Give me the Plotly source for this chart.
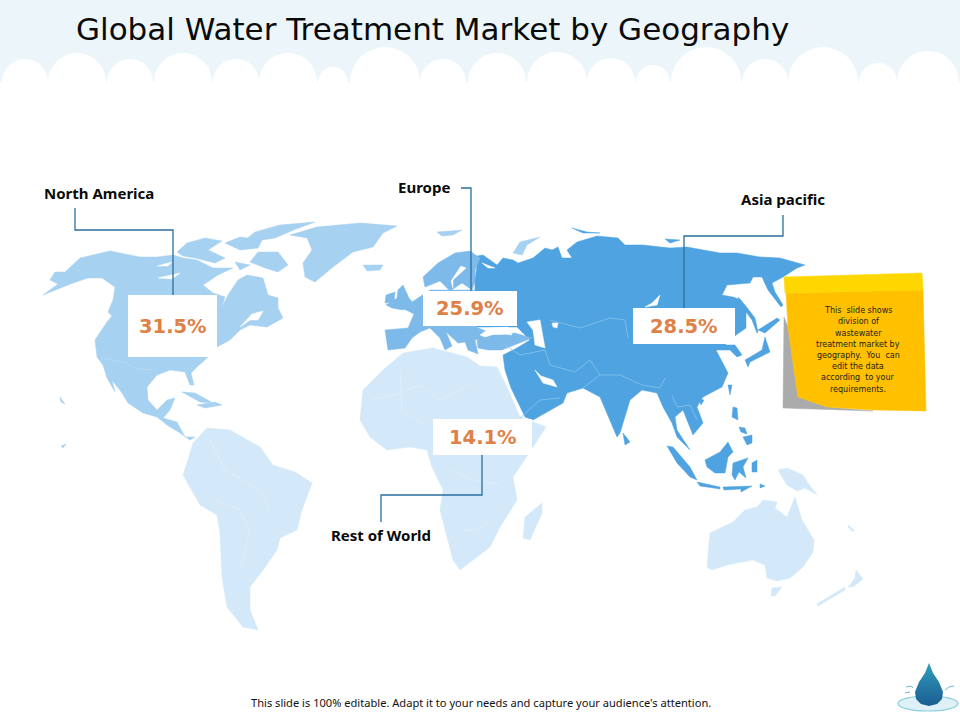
import plotly.graph_objects as go

# values shown on the slide
regions = ["North America", "Europe", "Asia pacific", "Rest of World"]
shares = [31.5, 25.9, 28.5, 14.1]

NA_COLOR = "#A6D1F1"
EU_COLOR = "#7DBAE9"
ASIA_COLOR = "#4FA3E1"
ROW_COLOR = "#D3E8F8"
LEADER = "#2B6E9E"
ORANGE = "#DE8146"

# map outlines, no topojson available offline so these are traced off the picture
north_america = [(43,295),(58,289),(73,283),(88,278),(102,278),(115,287),(113,300),(108,312),(112,316),(107,322),(95,340),(97,357),(103,365),
    (107,378),(115,392),(112,380),(122,393),(128,403),(143,413),(157,417),(167,425),(180,433),(190,440),(195,437),(185,437),(177,422),
    (163,418),(170,410),(175,398),(167,400),(157,410),(148,400),(147,387),(157,375),(170,370),(185,372),(190,385),(194,385),(191,373),
    (197,367),(207,358),(217,347),(230,340),(240,330),(250,325),(267,327),(283,318),(278,308),(278,298),(268,295),(263,278),(247,275),
    (238,280),(228,295),(222,307),(225,297),(213,293),(203,285),(218,275),(233,268),(213,268),(197,260),(183,258),(173,255),(157,257),
    (140,257),(110,251),(80,258),(65,272),(55,272),(50,280),(58,284)]
na_islands = [
    [(177,252),(187,243),(205,238),(222,241),(208,250),(225,258),(215,263),(195,258),(183,256)],
    [(225,243),(240,237),(262,240),(258,248),(240,250)],
    [(258,252),(278,252),(288,265),(278,272),(265,268),(250,262)],
    [(255,232),(280,225),(315,222),(296,229),(275,238),(262,240),(245,240)],
    [(235,262),(250,265),(240,270)],
    [(182,392),(195,393),(213,403),(200,402)],
    [(197,405),(215,402),(222,405),(205,408)],
    [(60,397),(64,402),(65,404),(61,402)],
    [(66,444),(63,448),(61,446)],
]
greenland = [(290,235),(317,227),(360,223),(397,226),(383,233),(373,247),(353,252),(333,267),(315,282),(305,277),(303,263),(312,250),(307,238)]
iceland = [(363,265),(383,265),(380,270),(367,271)]
svalbard = [(437,232),(462,230),(453,235),(442,236)]
novaya_zemlya = [(513,253),(520,242),(540,237),(527,245),(522,255)]

asia = [(475,290),(475,280),(477,265),(472,257),(483,255),(497,265),(503,258),(513,260),(518,263),(533,258),(545,248),(552,250),(558,247),(562,258),
    (572,258),(567,250),(577,242),(597,236),(618,238),(625,245),(643,245),(670,248),(687,247),(720,253),(737,253),(760,257),(780,258),
    (805,265),(797,268),(783,277),(772,283),(775,292),(783,305),(781,307),(768,290),(762,277),(753,277),(750,283),(727,285),(722,295),
    (733,297),(741,300),(746,312),(746,328),(736,335),(725,345),(735,345),(742,355),(737,357),(730,350),(716,350),
    (720,358),(728,373),(722,387),(703,397),(697,407),(703,423),(693,435),(683,410),(675,417),(677,430),
    (690,450),(677,437),(672,423),(663,407),(657,393),(642,390),(630,400),(620,433),(617,437),(603,403),(600,397),(583,388),
    (567,393),(563,403),(533,420),(525,417),(511,388),(505,370),(503,355),(517,348),(530,340),(517,327),(476,327)]
asia_islands = [
    [(667,446),(673,447),(690,467),(697,480),(690,477),(677,463)],
    [(697,482),(720,487),(720,489),(700,486)],
    [(723,487),(752,486),(741,492),(741,489),(724,490)],
    [(705,460),(720,452),(728,442),(733,452),(728,457),(725,473),(715,473),(707,467)],
    [(733,463),(748,458),(743,467),(746,478),(739,472),(735,480),(732,475)],
    [(733,407),(737,408),(738,420),(732,417)],
    [(743,437),(752,435),(752,443),(747,445)],
    [(739,427),(745,428),(747,434),(741,432)],
    [(752,463),(757,460),(757,472),(752,472)],
    [(765,337),(770,352),(750,362),(748,367),(745,360),(762,350)],
    [(758,330),(777,318),(780,320),(765,333)],
    [(738,297),(745,305),(755,318),(758,332),(757,333),(752,320),(743,308)],
    [(623,433),(630,442),(625,445)],
    [(728,385),(732,385),(730,395)],
    [(699,399),(704,400),(701,405)],
    [(760,484),(765,486),(760,488)],
    [(572,228),(587,232),(600,233),(583,233)],
    [(665,239),(680,240),(670,243)],
]
europe = [(385,330),(408,328),(414,314),(402,308),(412,302),(425,293),(430,290),(475,290),(476,327),(488,332),(485,337),(475,340),
    (478,354),(468,350),(465,342),(458,343),(446,332),(452,346),(445,350),(440,338),(430,328),(420,332),(412,338),(405,348),(388,350)]
scandinavia = [(423,277),(438,263),(455,253),(470,251),(480,258),(475,270),(475,282),(472,290),(462,283),(450,291),(440,281),(425,287)]
uk = [(386,305),(397,298),(398,290),(403,285),(409,298),(413,303),(403,310),(392,308)]
ireland = [(386,295),(395,292),(394,302),(385,303)]
turkey = [(477,340),(485,335),(502,335),(515,333),(532,338),(522,342),(502,350),(488,350),(478,348)]

africa = [(363,390),(383,370),(403,353),(433,348),(467,357),(480,366),(497,367),(507,387),(520,417),(546,427),(533,447),
    (513,477),(517,500),(500,527),(490,547),(460,570),(453,560),(443,520),(440,510),(443,490),(432,467),(427,450),(410,447),
    (387,450),(370,437),(360,420)]
madagascar = [(542,503),(542,513),(530,540),(523,538),(525,517)]
south_america = [(193,443),(207,428),(230,430),(260,447),(273,465),(295,472),(312,483),(302,510),(297,530),(280,538),(277,550),(263,570),
    (250,587),(250,610),(258,630),(243,627),(227,607),(222,577),(220,533),(217,515),(200,505),(183,475),(187,463)]
australia = [(707,567),(710,533),(733,522),(745,510),(757,507),(763,500),(777,502),(775,508),(787,517),(795,497),(802,520),(814,540),
    (813,552),(803,567),(790,578),(777,581),(767,578),(765,565),(753,560),(727,565),(712,570)]
row_islands = [
    [(772,588),(782,587),(775,596),(771,596)],
    [(817,604),(845,587),(845,590),(818,606)],
    [(848,587),(855,578),(856,570),(863,579),(853,587)],
    [(778,470),(787,468),(803,475),(808,483),(817,495),(805,488),(797,491),(787,485)],
    [(848,525),(854,530),(853,532),(848,527)],
]
# seas and lakes painted back over the land
water = [
    [(527,322),(540,320),(545,348),(535,345),(533,330)],
    [(490,328),(508,327),(512,335),(498,333),(485,337),(480,335)],
    [(552,323),(558,323),(557,328),(553,327)],
    [(660,295),(657,305),(645,307),(652,303)],
    [(535,370),(543,383),(557,387),(553,380),(541,376)],
    [(461,266),(466,268),(453,280),(453,288),(451,281)],
    [(482,263),(495,268),(488,268)],
    [(157,266),(172,262),(168,266)],
    [(158,278),(180,273),(172,279)],
    [(240,327),(252,314),(263,311),(258,320),(250,320)],
]
borders = [
    [(505,345),(520,355),(545,350),(550,365),(575,372),(590,360),(600,375),(583,388)],
    [(520,418),(540,400),(560,398)],
    [(600,375),(620,375),(642,385),(660,388),(665,378)],
    [(672,395),(677,407),(690,405),(697,420)],
    [(550,320),(580,328),(610,318),(625,320),(628,338)],
    [(660,318),(690,315),(708,330)],
]
na_borders = [(100,358),(125,362),(135,368),(150,370)]
row_borders = [
    [(372,400),(395,395),(420,385),(440,400),(470,385)],
    [(400,370),(402,410),(425,425)],
    [(450,470),(475,480),(500,485)],
    [(460,530),(478,530),(490,520)],
    [(210,440),(225,470),(260,490),(270,510)],
    [(215,500),(240,510),(250,530),(240,570)],
]

# header scallops: centre x, radius
bump_x = [25, 77, 130, 183, 236, 288, 333, 385, 443, 497, 557, 611, 653, 706, 765, 823, 878, 928]
bump_r = [23, 29, 23, 29, 23, 29, 15, 35, 23, 29, 30, 24, 17, 35, 23, 35, 19, 31]

note_lines = ["This  slide shows", "division of", "wastewater", "treatment market by", "geography.  You  can",
              "edit the data", "according  to your", "requirements."]
note_y = [310, 321, 333, 344, 355, 366, 377, 389]

fig = go.Figure()


def add_land(polys, color, line=None):
    xs, ys = [], []
    for p in polys:
        xs += [q[0] for q in p] + [p[0][0], None]
        ys += [q[1] for q in p] + [p[0][1], None]
    fig.add_trace(go.Scatter(x=xs, y=ys, mode="lines", fill="toself", fillcolor=color,
                             line=dict(color=line or color, width=0.5), hoverinfo="skip", showlegend=False))


def add_lines(lines, color, width=0.7):
    xs, ys = [], []
    for p in lines:
        xs += [q[0] for q in p] + [None]
        ys += [q[1] for q in p] + [None]
    fig.add_trace(go.Scatter(x=xs, y=ys, mode="lines", line=dict(color=color, width=width),
                             hoverinfo="skip", showlegend=False))


add_land([africa, madagascar, south_america, australia] + row_islands, ROW_COLOR)
add_lines(row_borders, "#E4F1FB")
add_land([north_america, greenland, iceland, svalbard, novaya_zemlya] + na_islands, NA_COLOR)
add_lines([na_borders], "#BBDCF5")
add_land([asia] + asia_islands, ASIA_COLOR)
add_land([europe, scandinavia, uk, ireland, turkey], EU_COLOR)
add_lines(borders, "#8FC5EE")
add_land(water, "white")

# sticky note
add_land([[(784,317),(788,327),(795,377),(798,397),(827,407),(873,411),(783,408)]], "#ABABAB")
add_land([[(786,293),(923,290),(926,411),(873,410),(827,407),(798,397),(795,377),(788,327)]], "#FFC000")
add_land([[(784,277),(922,273),(923,290),(785,293)]], "#FFD700")

# water drop logo
drop_x = [929, 925, 919, 915, 916, 921, 929, 937, 942, 943, 939, 933, 929]
drop_y = [663, 673, 682, 692, 699, 704, 706, 704, 699, 692, 682, 673, 663]
fig.add_trace(go.Scatter(x=drop_x, y=drop_y, mode="lines", fill="toself", line=dict(width=0, color="#2A93B5"),
                         fillgradient=dict(type="vertical", colorscale=[[0, "#1C5E93"], [1, "#2E9DBB"]]),
                         hoverinfo="skip", showlegend=False))
add_lines([[(906,687),(911,686),(913,688)], [(905,693),(910,692)], [(945,690),(949,687),(954,686)]], "#6FB6CC", 1)

shapes = [dict(type="rect", x0=0, x1=960, y0=0, y1=82, fillcolor="#ECF6FA", line_width=0, layer="below")]
for cx, r in zip(bump_x, bump_r):
    shapes.append(dict(type="circle", x0=cx - r, x1=cx + r, y0=82 - r, y1=82 + r, fillcolor="white", line_width=0, layer="below"))
# ripple under the drop
shapes.append(dict(type="circle", x0=898, x1=958, y0=696, y1=711, fillcolor="#DDF1F6", line=dict(color="#8CCFDC", width=1.2), layer="below"))
# white value boxes
boxes = [(128, 217, 295, 357), (423, 517, 291, 326), (633, 735, 308, 344), (433, 532, 419, 455)]
for b in boxes:
    shapes.append(dict(type="rect", x0=b[0], x1=b[1], y0=b[2], y1=b[3], fillcolor="white", line_width=0))
# leader lines
leaders = ["M75,208 L75,230 L173,230 L173,295", "M461,188 L471,188 L471,291",
           "M783,215 L783,236 L684,236 L684,308", "M482,455 L482,495 L381,495 L381,522"]
for p in leaders:
    shapes.append(dict(type="path", path=p, line=dict(color=LEADER, width=1.3)))

annotations = [dict(x=74, y=29, text="Global Water Treatment Market by Geography", xanchor="left", showarrow=False,
                    font=dict(family="DejaVu Sans", size=31, color="#0A0A0A"))]
label_pos = [(98.5, 193), (423.5, 187), (782.5, 199), (380.5, 535)]
for name, pos in zip(regions, label_pos):
    annotations.append(dict(x=pos[0], y=pos[1], text="<b>" + name + "</b>", showarrow=False,
                            font=dict(family="Noto Sans", size=15, color="#0A0A0A")))
for v, b in zip(shares, boxes):
    annotations.append(dict(x=(b[0] + b[1]) / 2, y=(b[2] + b[3]) / 2, text="<b>" + str(v) + "%</b>", showarrow=False,
                            font=dict(family="DejaVu Sans", size=19.5, color=ORANGE)))
for t, y in zip(note_lines, note_y):
    annotations.append(dict(x=858, y=y, text=t, showarrow=False, font=dict(family="DejaVu Sans", size=8, color="#222222")))
annotations.append(dict(x=481, y=702, text="This slide is 100% editable. Adapt it to your needs and capture your audience's attention.",
                        showarrow=False, font=dict(family="Noto Sans", size=11.1, color="#111111")))
for a in annotations:
    a["xref"] = "x"
    a["yref"] = "y"

fig.update_layout(width=960, height=720, margin=dict(l=0, r=0, t=0, b=0), plot_bgcolor="white", paper_bgcolor="white",
                  shapes=shapes, annotations=annotations, showlegend=False)
fig.update_xaxes(range=[0, 960], visible=False, fixedrange=True)
fig.update_yaxes(range=[720, 0], visible=False, fixedrange=True)

fig.write_html("out.html", config={"displayModeBar": False},
               post_script="document.body.style.margin='0';document.body.style.overflow='hidden';")
